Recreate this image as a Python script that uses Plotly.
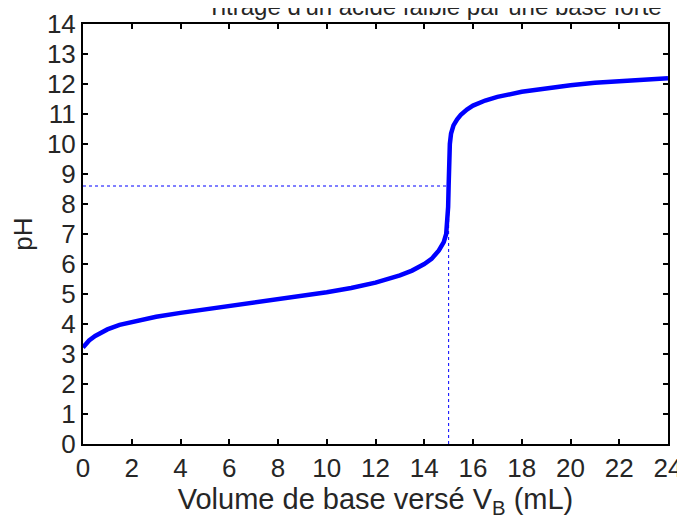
import plotly.graph_objects as go

volume_ml = [0, 0.25, 0.5, 1, 1.5, 2, 3, 4, 5, 6, 7, 8, 9, 10, 11, 12, 13, 13.5, 14,
             14.3, 14.6, 14.8, 14.9, 14.95, 14.98, 15.0, 15.02, 15.05, 15.1, 15.2,
             15.35, 15.5, 15.75, 16, 16.5, 17, 18, 19, 20, 21, 22, 23, 24]
ph_values = [3.22, 3.45, 3.6, 3.82, 3.97, 4.07, 4.24, 4.37, 4.48, 4.6, 4.71, 4.82, 4.93,
             5.06, 5.2, 5.38, 5.62, 5.78, 6.0, 6.17, 6.45, 6.73, 7.0, 7.4, 7.9, 8.6, 9.4,
             10.0, 10.35, 10.62, 10.82, 10.97, 11.15, 11.28, 11.45, 11.57, 11.74, 11.86,
             11.96, 12.04, 12.1, 12.15, 12.19]

v_eq = 15.0
ph_eq = 8.6

x_ticks = list(range(0, 25, 2))
y_ticks = list(range(0, 15, 1))

font = "Liberation Sans, Arial, sans-serif"
blue = "#0000ff"
txt = "#262626"

fig = go.Figure()
fig.add_trace(go.Scatter(x=[0, v_eq], y=[ph_eq, ph_eq], mode="lines",
                         line=dict(color=blue, width=1, dash="dot"), hoverinfo="skip"))
fig.add_trace(go.Scatter(x=[v_eq, v_eq], y=[0, ph_eq], mode="lines",
                         line=dict(color=blue, width=1, dash="dot"), hoverinfo="skip"))
fig.add_trace(go.Scatter(x=volume_ml, y=ph_values, mode="lines",
                         line=dict(color=blue, width=4.5)))

axis_common = dict(showgrid=False, zeroline=False, showline=True, linecolor="black",
                   linewidth=2, mirror="ticks", ticks="inside", ticklen=5, tickwidth=1.5,
                   tickcolor="black", automargin=False,
                   tickfont=dict(family=font, size=26, color=txt))

fig.update_layout(
    width=677, height=519,
    margin=dict(l=75, r=17, t=16, b=83),
    paper_bgcolor="white", plot_bgcolor="white",
    showlegend=False,
    xaxis=dict(range=[0, 24], tickvals=x_ticks, ticktext=[str(t) for t in x_ticks],
               title=dict(text="Volume de base versé V<sub>B</sub> (mL)",
                          font=dict(family=font, size=29, color=txt), standoff=0),
               **axis_common),
    yaxis=dict(range=[0, 14], tickvals=y_ticks, ticktext=[str(t) for t in y_ticks],
               title=dict(text="pH", font=dict(family=font, size=26, color=txt), standoff=14),
               **axis_common),
    annotations=[dict(text="Titrage d'un acide faible par une base forte",
                      xref="paper", yref="paper", x=0.6, y=1.0425,
                      xanchor="center", yanchor="middle", showarrow=False,
                      font=dict(family=font, size=24, color=txt))],
)

fig.write_html("out.html")
